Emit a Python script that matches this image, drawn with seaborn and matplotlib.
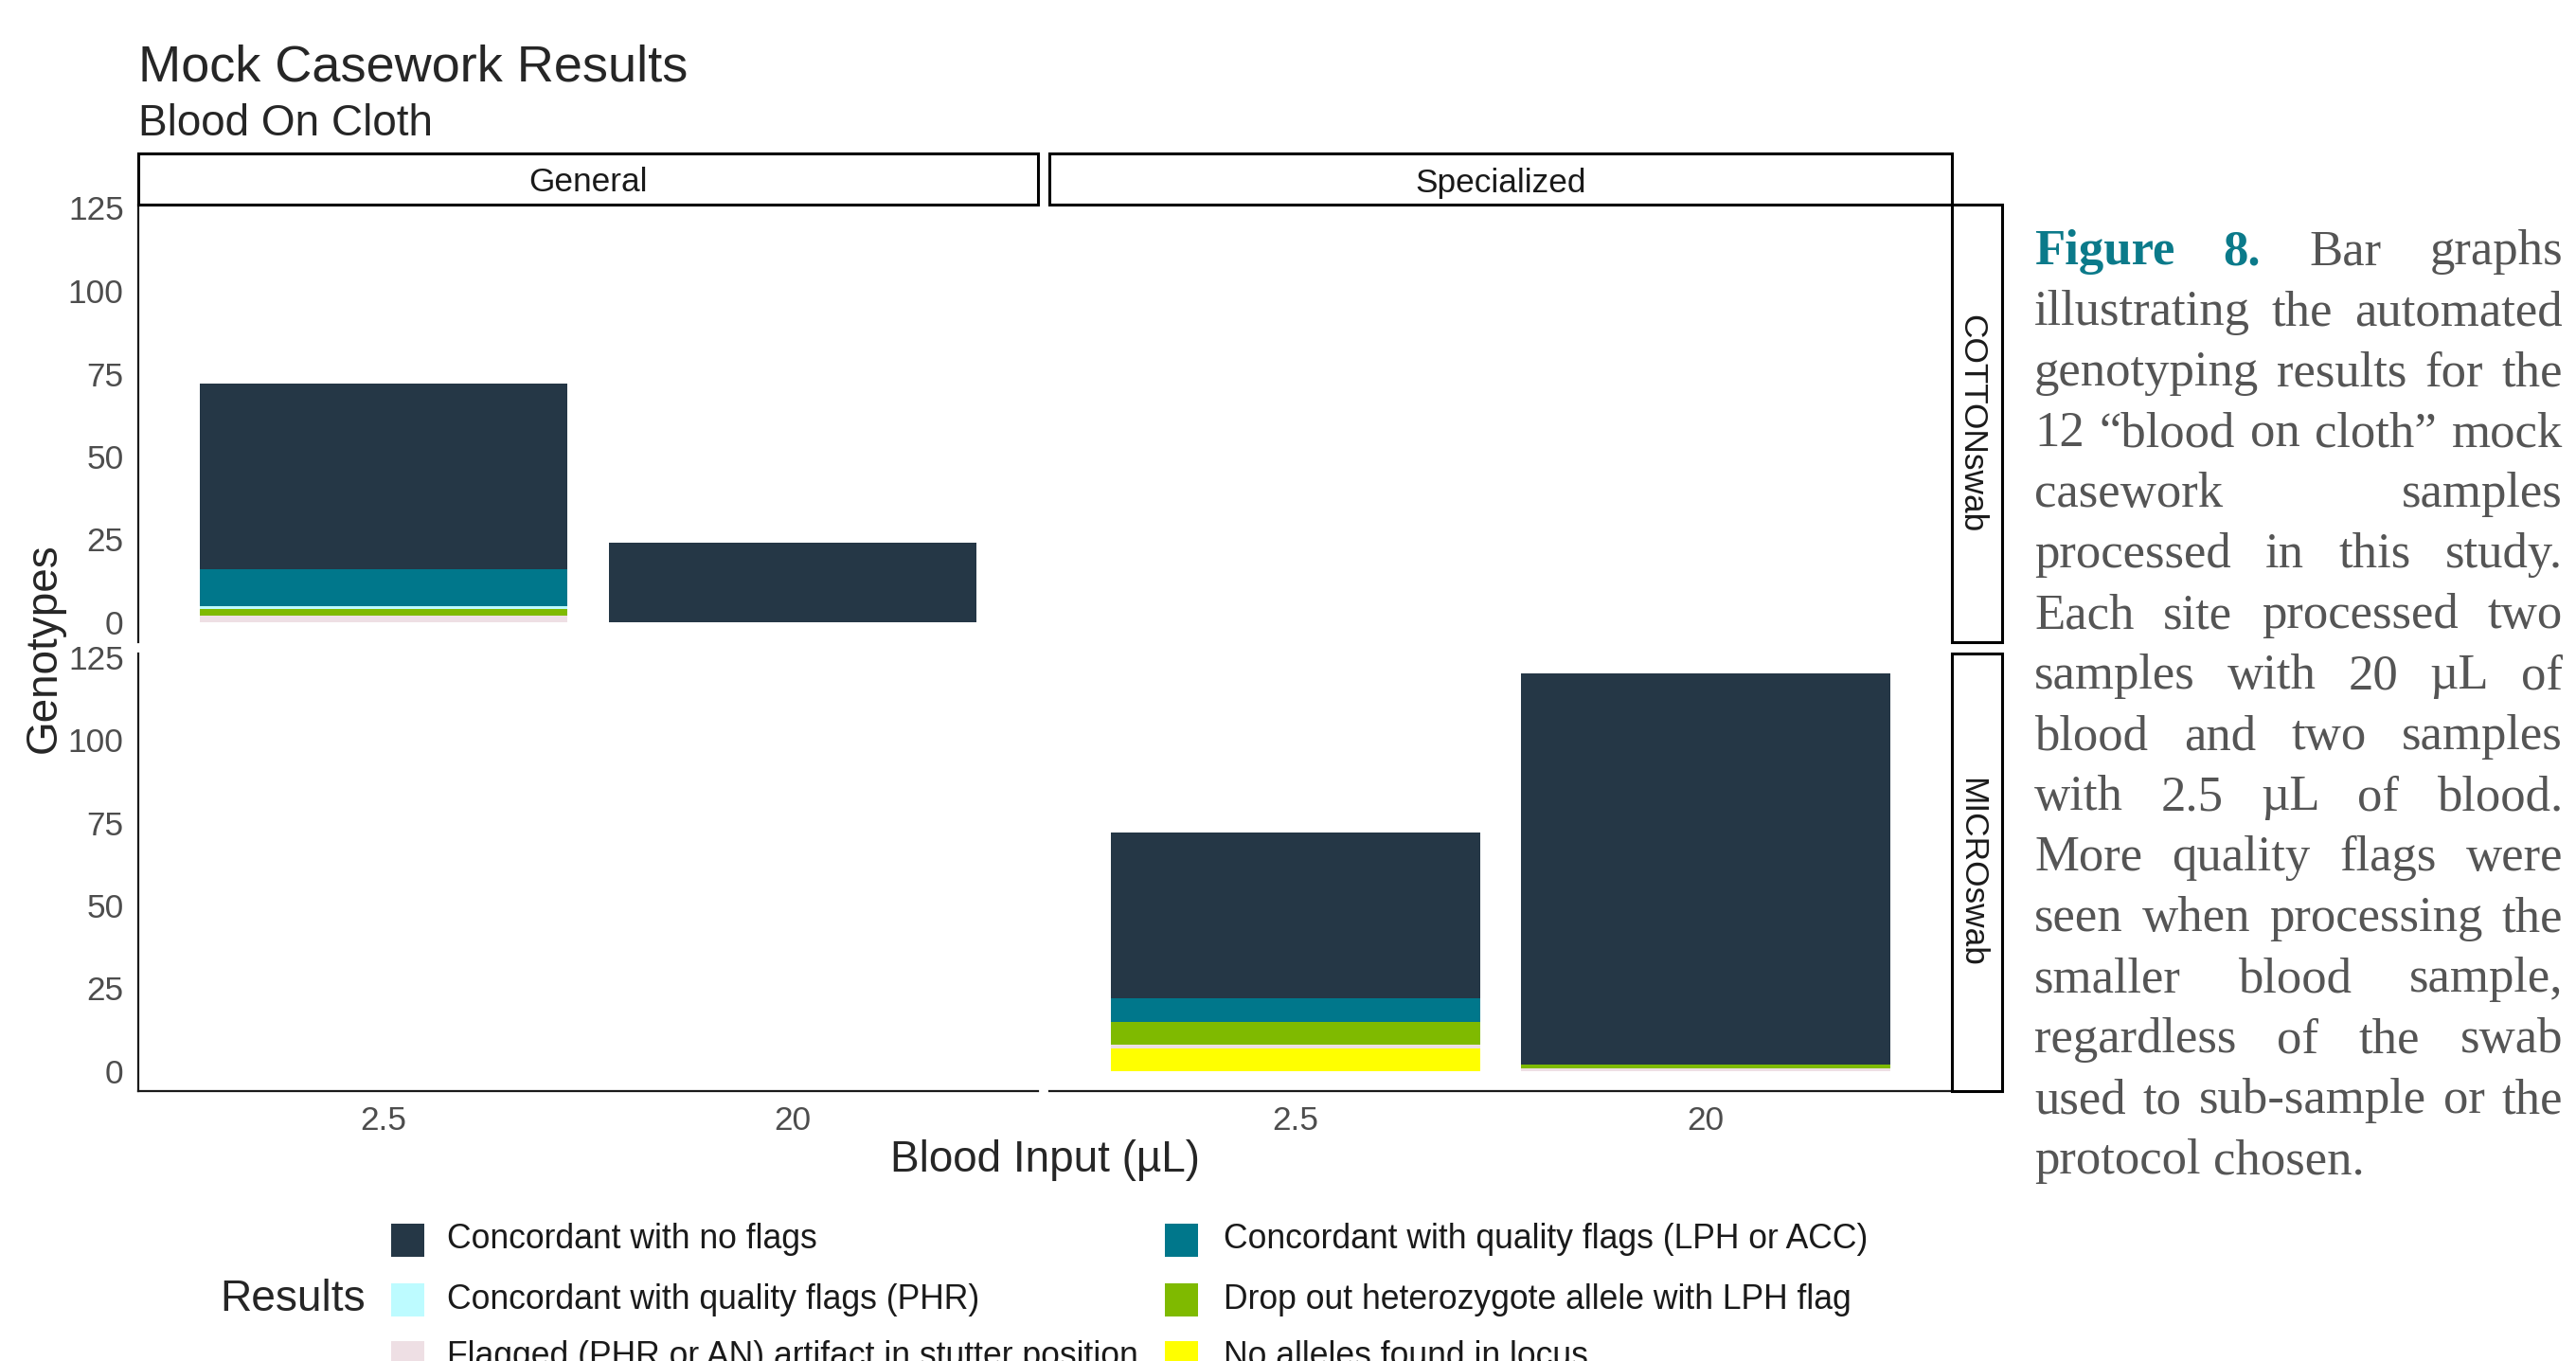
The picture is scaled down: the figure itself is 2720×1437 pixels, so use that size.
import numpy as np
import pandas as pd
import matplotlib
matplotlib.use('Agg')
import matplotlib.pyplot as plt
from matplotlib.patches import Rectangle
import seaborn as sns

# ---- data ----
protocols = ['General', 'Specialized']
swabs = ['COTTONswab', 'MICROswab']
blood = ['2.5', '20']
results = ['Concordant with no flags',
           'Concordant with quality flags (LPH or ACC)',
           'Concordant with quality flags (PHR)',
           'Drop out heterozygote allele with LPH flag',
           'Flagged (PHR or AN) artifact in stutter position',
           'No alleles found in locus']
colors = ['#253746', '#00778B', '#BDFBFF', '#7FBA00', '#EEDFE4', '#FFFF00']

# genotype counts, same order as results
general_cotton_2_5 = [56, 11, 1, 2, 2, 0]
general_cotton_20 = [24, 0, 0, 0, 0, 0]
general_micro_2_5 = [0, 0, 0, 0, 0, 0]
general_micro_20 = [0, 0, 0, 0, 0, 0]
special_cotton_2_5 = [0, 0, 0, 0, 0, 0]
special_cotton_20 = [0, 0, 0, 0, 0, 0]
special_micro_2_5 = [50, 7, 0, 7, 1, 7]
special_micro_20 = [118, 0, 0, 1, 1, 0]

y_ticks = [0, 25, 50, 75, 100, 125]

counts = {
    ('General', 'COTTONswab', '2.5'): general_cotton_2_5,
    ('General', 'COTTONswab', '20'): general_cotton_20,
    ('General', 'MICROswab', '2.5'): general_micro_2_5,
    ('General', 'MICROswab', '20'): general_micro_20,
    ('Specialized', 'COTTONswab', '2.5'): special_cotton_2_5,
    ('Specialized', 'COTTONswab', '20'): special_cotton_20,
    ('Specialized', 'MICROswab', '2.5'): special_micro_2_5,
    ('Specialized', 'MICROswab', '20'): special_micro_20,
}

rows = []
for (p, s, b), vals in counts.items():
    # stack: last result at the bottom, first on top (ggplot order)
    cum = np.cumsum(vals[::-1])[::-1]
    for r, v, c in zip(results, vals, cum):
        rows.append(dict(protocol=p, swab=s, blood=b, result=r, count=v, top=c))
df = pd.DataFrame(rows)

# ---- figure ----
sns.set_style('white')
plt.rcParams['font.family'] = ['Liberation Sans', 'DejaVu Sans']

W, H = 2720, 1437
fig = plt.figure(figsize=(W / 200, H / 200), dpi=200)


def box(x0, y0, x1, y1):
    return [x0 / W, 1 - y1 / H, (x1 - x0) / W, (y1 - y0) / H]


col_x = [(146, 1096), (1108, 2061)]
row_y = [(216, 678), (690, 1152)]

for i, s in enumerate(swabs):
    for j, p in enumerate(protocols):
        ax = fig.add_axes(box(col_x[j][0], row_y[i][0], col_x[j][1], row_y[i][1]))
        sub = df[(df.protocol == p) & (df.swab == s)]
        for r, c in zip(results, colors):
            sns.barplot(data=sub[sub.result == r], x='blood', y='top', order=blood,
                        color=c, width=0.9, errorbar=None, linewidth=0,
                        saturation=1, ax=ax)
        ax.set_xlim(-0.6, 1.6)
        ax.set_ylim(-6, 126)
        ax.set_xlabel('')
        ax.set_ylabel('')
        for sp in ax.spines.values():
            sp.set_visible(False)
        ax.tick_params(length=0, labelleft=False, labelbottom=False)
        if j == 0:
            ax.spines['left'].set_visible(True)
            ax.spines['left'].set_color('#1A1A1A')
            ax.spines['left'].set_linewidth(0.8)
            ax.set_yticks(y_ticks)
            ax.tick_params(axis='y', length=2.5, width=0.7, color='#333333',
                           labelleft=True, labelsize=12.7, labelcolor='#4D4D4D', pad=3)
        if i == 1:
            ax.spines['bottom'].set_visible(True)
            ax.spines['bottom'].set_color('#1A1A1A')
            ax.spines['bottom'].set_linewidth(0.8)
            ax.set_xticks(range(len(blood)))
            ax.set_xticklabels(blood)
            ax.tick_params(axis='x', length=2.5, width=0.7, color='#333333',
                           labelbottom=True, labelsize=12.7, labelcolor='#4D4D4D', pad=3)

# strips
for j, p in enumerate(protocols):
    x0, x1 = col_x[j]
    fig.add_artist(Rectangle((x0 / W, 1 - 216 / H), (x1 - x0) / W, 54 / H,
                             transform=fig.transFigure, facecolor='white',
                             edgecolor='black', linewidth=1.1))
    fig.text((x0 + x1) / 2 / W, 1 - 193 / H, p, ha='center', va='center',
             fontsize=12.7, color='#1A1A1A')
for i, s in enumerate(swabs):
    y0, y1 = row_y[i]
    fig.add_artist(Rectangle((2061 / W, 1 - y1 / H), 53 / W, (y1 - y0) / H,
                             transform=fig.transFigure, facecolor='white',
                             edgecolor='black', linewidth=1.1))
    fig.text(2082 / W, 1 - (y0 + y1) / 2 / H, s, ha='center', va='center',
             rotation=270, fontsize=12.7, color='#1A1A1A')

# titles
fig.text(146 / W, 1 - 85 / H, 'Mock Casework Results', fontsize=19.5, va='baseline')
fig.text(146 / W, 1 - 143 / H, 'Blood On Cloth', fontsize=16.5, va='baseline')
fig.text(1103 / W, 1 - 1225 / H, 'Blood Input (µL)', fontsize=16.5, ha='center', va='center')
fig.text(47 / W, 1 - 684 / H, 'Genotypes', fontsize=16.5, ha='center', va='center',
         rotation=90)

# legend (ggplot style: title on the left, 2 columns filled by row)
fig.text(232 / W, 1 - 1372 / H, 'Results', fontsize=16.6, va='center')
key_x = [413, 1230]
text_x = [472, 1292]
row_c = [1309, 1372, 1433]
for k, (r, c) in enumerate(zip(results, colors)):
    rr, cc = divmod(k, 2)
    fig.add_artist(Rectangle((key_x[cc] / W, 1 - (row_c[rr] + 17.5) / H), 35 / W, 35 / H,
                             transform=fig.transFigure, facecolor=c, edgecolor='none'))
    fig.text(text_x[cc] / W, 1 - row_c[rr] / H, r, fontsize=12.8, va='center',
             color='#1A1A1A')

# caption, justified
caption = [
    'Figure 8. Bar graphs',
    'illustrating the automated',
    'genotyping results for the',
    '12 “blood on cloth” mock',
    'casework samples',
    'processed in this study.',
    'Each site processed two',
    'samples with 20 µL of',
    'blood and two samples',
    'with 2.5 µL of blood.',
    'More quality flags were',
    'seen when processing the',
    'smaller blood sample,',
    'regardless of the swab',
    'used to sub-sample or the',
    'protocol chosen.',
]
cap_left, cap_right = 2148, 2706
renderer = fig.canvas.get_renderer()
serif = ['Liberation Serif', 'DejaVu Serif']
for li, line in enumerate(caption):
    yb = 1 - (279 + 64 * li) / H
    words = line.split(' ')
    arts = []
    for wi, w in enumerate(words):
        bold = li == 0 and wi < 2
        arts.append(fig.text(0, yb, w, fontsize=19, family=serif, va='baseline',
                             weight='bold' if bold else 'normal',
                             color='#0B7A8A' if bold else '#555555'))
    widths = [a.get_window_extent(renderer).width for a in arts]
    if li < len(caption) - 1 and len(words) > 1:
        gap = (cap_right - cap_left - sum(widths)) / (len(words) - 1)
    else:
        gap = 19 * 200 / 72 * 0.25
    x = cap_left
    for a, wd in zip(arts, widths):
        a.set_x(x / W)
        x += wd + gap

fig.savefig('out.png', dpi=200)
